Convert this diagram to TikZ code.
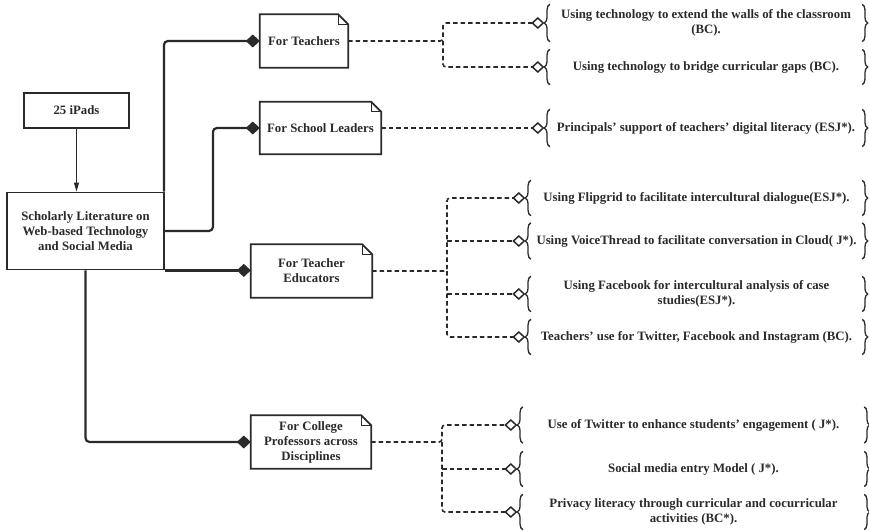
\documentclass[tikz,border=0pt]{standalone}
\usepackage{fontspec}
\setmainfont{Liberation Serif}
\usetikzlibrary{arrows.meta,decorations.pathreplacing,calc}
\definecolor{ink}{HTML}{2A2A2A}
\newcommand\notedraw[1]{%
  \draw[ink, line width=1.8pt, line join=miter] (#1.south west) -- (#1.north west) -- ([xshift=-10pt]#1.north east) -- ([yshift=-10pt]#1.north east) -- (#1.south east) -- cycle;
  \draw[ink, line width=1.1pt] ([xshift=-10pt]#1.north east) -- ([xshift=-10pt,yshift=-10pt]#1.north east) -- ([yshift=-10pt]#1.north east);}
\newcommand\bracepair[1]{%
  \draw[bracestyle] (#1.south west) -- (#1.north west);
  \draw[bracestyle] (#1.north east) -- (#1.south east);}
\begin{document}
\begin{tikzpicture}[x=1pt,y=-1pt,
  every node/.style={font=\fontsize{12.8}{15}\selectfont\bfseries, text=ink, align=center, inner sep=0pt},
  plainbox/.style={draw=ink, line width=1.8pt},
  notenode/.style={draw=none},
  itemnode/.style={draw=none},
  bracestyle/.style={draw=ink, line width=1.3pt, decorate, decoration={brace, amplitude=5.5pt}},
  conn/.style={draw=ink, line width=2.2pt, rounded corners=4pt, -{Diamond[length=14pt,width=13pt]}},
  dline/.style={draw=ink, line width=1.6pt, dash pattern=on 4.5pt off 3pt},
  dconn/.style={dline, -{Diamond[open,length=13pt,width=12pt,line width=1.5pt]}, shorten >=5.5pt},
]
\path[use as bounding box] (0,0) rectangle (869,532);

% left boxes
\node[plainbox, minimum width=105pt, minimum height=35pt] (ipads) at (76.5,110.5) {25 iPads};
\node[plainbox, minimum width=157pt, minimum height=77pt] (main) at (85.5,231) {Scholarly Literature on\\Web-based Technology\\and Social Media};
\draw[ink, line width=1.1pt, -{Triangle[length=9pt,width=5pt]}] (ipads.south) -- (ipads.south |- main.north);

% note boxes
\node[notenode, minimum width=88pt, minimum height=53pt] (tea) at (304,41) {For Teachers};
\node[notenode, minimum width=121pt, minimum height=52pt] (sl) at (320.5,128) {For School Leaders};
\node[notenode, minimum width=121pt, minimum height=53pt] (te) at (311.5,271) {For Teacher\\Educators};
\node[notenode, minimum width=120pt, minimum height=53pt] (cp) at (311,442) {For College\\Professors across\\Disciplines};
\notedraw{tea}
\notedraw{sl}
\notedraw{te}
\notedraw{cp}

% solid connectors
\draw[conn] ([xshift=-1pt]main.north east) |- (tea.west);
\draw[conn] (main.east) -- ++(48,0) |- (sl.west);
\draw[conn] (main.south east) -- (main.south east -| te.west);
\draw[conn] (main.south) |- (cp.west);

% items
\node[itemnode, minimum width=312pt, minimum height=37pt] (i1) at (706,23) {Using technology to extend the walls of the classroom\\(BC).};
\node[itemnode, minimum width=312pt, minimum height=35pt] (i2) at (706,67) {Using technology to bridge curricular gaps (BC).};
\node[itemnode, minimum width=312pt, minimum height=37pt] (i3) at (706,128) {Principals' support of teachers' digital literacy (ESJ*).};
\node[itemnode, minimum width=331pt, minimum height=35pt] (i4) at (696.5,198) {Using Flipgrid to facilitate intercultural dialogue(ESJ*).};
\node[itemnode, minimum width=331pt, minimum height=36pt] (i5) at (696.5,241) {Using VoiceThread to facilitate conversation in Cloud( J*).};
\node[itemnode, minimum width=331pt, minimum height=35pt] (i6) at (696.5,294) {Using Facebook for intercultural analysis of case\\studies(ESJ*).};
\node[itemnode, minimum width=331pt, minimum height=35pt] (i7) at (696.5,337) {Teachers' use for Twitter, Facebook and Instagram (BC).};
\node[itemnode, minimum width=341pt, minimum height=36pt] (i8) at (693.5,425) {Use of Twitter to enhance students' engagement ( J*).};
\node[itemnode, minimum width=341pt, minimum height=35pt] (i9) at (693.5,469) {Social media entry Model ( J*).};
\node[itemnode, minimum width=341pt, minimum height=35pt] (i10) at (693.5,512) {Privacy literacy through curricular and cocurricular\\activities (BC*).};
\foreach \n in {i1,i2,i3,i4,i5,i6,i7,i8,i9,i10} {\bracepair{\n}}

% dashed connectors
\coordinate (f1) at (443,41);
\draw[dconn, rounded corners=3pt] (tea.east) -- (f1) |- (i1.west);
\draw[dconn, rounded corners=3pt] (f1) |- (i2.west);

\draw[dconn] (sl.east) -- (i3.west);

\coordinate (f2) at (447,271);
\draw[dconn, rounded corners=3pt] (te.east) -- (f2) |- (i4.west);
\draw[dconn, rounded corners=3pt] (f2) |- (i7.west);
\draw[dconn] (f2 |- i5.west) -- (i5.west);
\draw[dconn] (f2 |- i6.west) -- (i6.west);

\coordinate (f3) at (442,442);
\draw[dconn, rounded corners=3pt] (cp.east) -- (f3) |- (i8.west);
\draw[dconn, rounded corners=3pt] (f3) |- (i10.west);
\draw[dconn] (f3 |- i9.west) -- (i9.west);
\end{tikzpicture}
\end{document}
